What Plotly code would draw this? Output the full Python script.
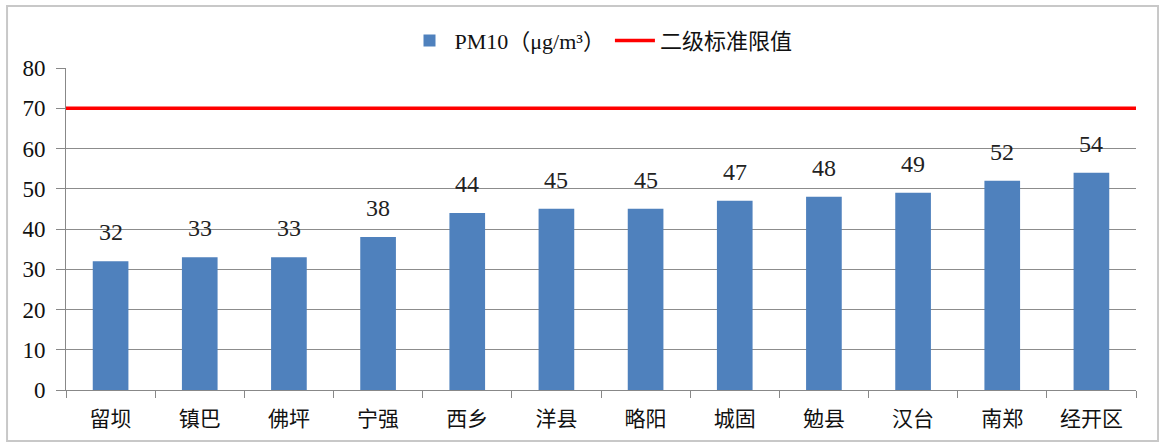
import plotly.graph_objects as go

categories = ["留坝", "镇巴", "佛坪", "宁强", "西乡", "洋县", "略阳", "城固", "勉县", "汉台", "南郑", "经开区"]
pm10_values = [32, 33, 33, 38, 44, 45, 45, 47, 48, 49, 52, 54]
standard_limit = 70
bar_name = "PM10（μg/m³）"
line_name = "二级标准限值"
y_ticks = [0, 10, 20, 30, 40, 50, 60, 70, 80]

SERIF = "Liberation Serif, Noto Sans CJK SC"
CJK = "Noto Sans CJK SC, Liberation Serif"

fig = go.Figure()
fig.add_trace(go.Bar(
    x=categories, y=pm10_values, name=bar_name,
    marker=dict(color="#4F81BD", line=dict(width=0)),
    width=0.4,
))
fig.add_trace(go.Scatter(
    x=[0, 1], y=[standard_limit, standard_limit], name=line_name,
    mode="lines", line=dict(color="#FF0000", width=3.5),
    xaxis="x2",
))

for c, v in zip(categories, pm10_values):
    fig.add_annotation(
        x=c, y=v, text=str(v), showarrow=False, yanchor="bottom", yshift=14,
        font=dict(family=SERIF, size=24, color="#222222"),
    )

fig.add_shape(
    type="rect", xref="paper", yref="paper",
    x0=-0.0551, x1=1.0206, y0=-0.158, y1=1.1925,
    line=dict(color="#c8c8c8", width=2), fillcolor="rgba(0,0,0,0)", layer="below",
)

fig.update_layout(
    width=1159, height=443,
    margin=dict(l=66, r=23, t=68, b=53, autoexpand=False),
    paper_bgcolor="white", plot_bgcolor="white",
    bargap=0.6,
    showlegend=True,
    legend=dict(
        orientation="h", x=0.5, xanchor="center", y=1.085, yanchor="middle",
        font=dict(family=SERIF, size=22, color="#111111"),
        itemwidth=40, bgcolor="rgba(0,0,0,0)",
    ),
    xaxis=dict(
        type="category", showgrid=False, showline=True, linecolor="#888888", linewidth=1,
        ticks="outside", tickson="boundaries", ticklen=7, tickcolor="#888888",
        tickfont=dict(family=CJK, size=21, color="#111111"),
        ticklabelstandoff=10,
        range=[-0.5, len(categories) - 0.5],
    ),
    xaxis2=dict(overlaying="x", range=[0, 1], visible=False, fixedrange=True),
    yaxis=dict(
        range=[0, 80], tickvals=y_ticks, showgrid=True, gridcolor="#8c8c8c", gridwidth=1,
        showline=True, linecolor="#888888", linewidth=1,
        ticks="outside", ticklen=9, tickcolor="#888888",
        tickfont=dict(family=SERIF, size=23, color="#111111"),
        ticklabelstandoff=6,
        zeroline=False,
    ),
)

fig.write_html("out.html", config={"displayModeBar": False},
               post_script="document.body.style.margin='0';")
